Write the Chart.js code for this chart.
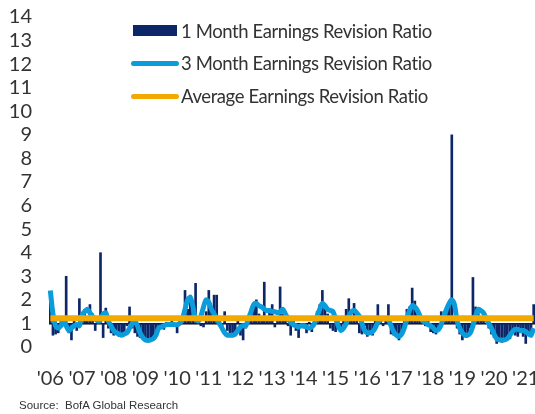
<!DOCTYPE html>
<html>
<head>
<meta charset="utf-8">
<script src="https://cdn.jsdelivr.net/npm/chart.js@4/dist/chart.umd.min.js"></script>
<style>
  body { margin: 0; background: #fff; }
  #wrap { position: relative; width: 535px; height: 414px; overflow: hidden; }
  #chart { position: absolute; left: 0; top: 0; }
  .leg { position: absolute; left: 181px; font-family: Lato, 'Liberation Sans', sans-serif; font-size: 18.5px; letter-spacing: -0.4px; color: #333; line-height: 22px; white-space: nowrap; }
  .sw { position: absolute; }
  #source { position: absolute; left: 19px; top: 399px; font-family: 'Liberation Sans', sans-serif; font-size: 11.5px; color: #333; white-space: pre; }
</style>
</head>
<body>
<div id="wrap">
  <canvas id="chart" width="535" height="414"></canvas>
  <div class="sw" style="left:133px;top:25px;width:44px;height:11px;background:#0c2668;"></div>
  <div class="leg" style="top:20px;">1 Month Earnings Revision Ratio</div>
  <div class="sw" style="left:131px;top:61px;width:48px;height:5px;border-radius:3px;background:#0b9ddb;"></div>
  <div class="leg" style="top:52px;">3 Month Earnings Revision Ratio</div>
  <div class="sw" style="left:131px;top:94px;width:48px;height:5px;border-radius:3px;background:#f2a900;"></div>
  <div class="leg" style="top:85px;">Average Earnings Revision Ratio</div>
  <div id="source">Source:  BofA Global Research</div>
</div>
<script>
// years on the x axis (one label per January)
var years = ['06', '07', '08', '09', '10', '11', '12', '13', '14', '15', '16', '17', '18', '19', '20', '21'];

// 1 month earnings revision ratio, monthly Jan 2006 - Apr 2021
var oneMonth = [
  2.3, 0.5, 0.55, 0.6, 1.2, 0.9, 3.0, 0.6, 0.3, 1.15, 0.7, 2.05,   // 2006
  1.1, 1.6, 1.3, 1.8, 1.4, 0.7, 1.2, 4.0, 0.4, 1.65, 0.8, 0.6,     // 2007
  0.5, 0.7, 0.45, 0.55, 0.6, 0.9, 1.7, 0.8, 0.6, 0.45, 0.4, 0.35,  // 2008
  0.3, 0.35, 0.25, 0.45, 0.6, 0.9, 0.85, 0.75, 1.05, 0.95, 1.1, 0.9, // 2009
  0.6, 1.1, 1.2, 2.4, 1.6, 2.2, 1.9, 2.7, 1.3, 0.9, 0.85, 1.5,     // 2010
  2.4, 1.5, 2.2, 2.2, 1.3, 0.8, 1.5, 0.7, 0.6, 0.5, 0.55, 1.3,     // 2011
  0.5, 0.3, 0.8, 1.2, 1.5, 1.85, 2.0, 1.4, 1.3, 2.75, 1.2, 1.5,    // 2012
  1.8, 0.85, 1.3, 2.55, 1.4, 1.2, 0.9, 0.5, 1.1, 0.7, 0.4, 0.95,   // 2013
  0.8, 0.6, 1.05, 0.65, 1.2, 1.5, 1.8, 2.4, 1.6, 1.4, 0.8, 0.7,    // 2014
  0.65, 1.1, 0.7, 1.2, 1.6, 2.05, 1.3, 1.85, 1.1, 0.6, 0.55, 0.9,  // 2015
  0.45, 0.7, 0.5, 1.3, 1.8, 1.2, 0.9, 1.3, 1.8, 0.55, 0.5, 0.6,    // 2016
  0.3, 0.6, 1.3, 1.6, 1.7, 2.5, 1.95, 1.4, 1.2, 1.1, 0.9, 1.2,     // 2017
  0.65, 0.6, 0.55, 0.8, 1.5, 1.3, 1.6, 1.9, 9.0, 1.3, 0.8, 0.55,   // 2018
  0.3, 0.45, 0.5, 0.8, 2.95, 1.7, 1.5, 1.3, 1.2, 1.0, 0.8, 0.55,   // 2019
  0.4, 0.15, 0.3, 0.2, 0.35, 0.4, 0.35, 0.6, 0.5, 0.45, 0.6, 0.45, // 2020
  0.15, 0.5, 0.6, 1.8                                              // 2021
];

// 3 month earnings revision ratio
var threeMonth = [
  2.4, 1.4, 0.9, 0.8, 0.9, 1.1, 0.9, 0.7, 0.8, 0.9, 0.95, 0.9,
  1.35, 1.5, 1.6, 1.45, 1.3, 1.2, 1.1, 1.15, 1.4, 1.45, 1.1, 0.9,
  0.7, 0.6, 0.55, 0.5, 0.55, 0.6, 0.8, 1.0, 1.1, 0.9, 0.6, 0.4,
  0.3, 0.28, 0.3, 0.35, 0.5, 0.8, 0.85, 0.9, 0.95, 0.95, 0.95, 0.95,
  0.95, 1.0, 1.2, 1.6, 2.0, 2.1, 1.7, 1.2, 1.1, 1.3, 1.7, 2.0,
  1.9, 1.6, 1.4, 1.2, 1.0, 0.8, 0.6, 0.5, 0.5, 0.5, 0.55, 0.7,
  0.85, 0.9, 0.9, 1.2, 1.5, 1.8, 1.85, 1.75, 1.7, 1.6, 1.55, 1.55,
  1.5, 1.5, 1.45, 1.5, 1.6, 1.4, 1.2, 1.05, 0.95, 0.9, 0.85, 0.9,
  0.9, 0.85, 0.8, 0.85, 1.0, 1.3, 1.6, 1.85, 1.75, 1.6, 1.55, 1.5,
  1.2, 0.9, 0.7, 0.8, 1.0, 1.3, 1.5, 1.55, 1.45, 1.3, 1.0, 0.7,
  0.6, 0.6, 0.65, 0.8, 1.05, 1.15, 1.2, 1.2, 1.15, 0.9, 0.65, 0.5,
  0.45, 0.55, 0.8, 1.2, 1.55, 1.75, 1.7, 1.55, 1.3, 1.1, 1.05, 0.95,
  0.9, 0.8, 0.7, 0.75, 0.95, 1.3, 1.6, 1.85, 2.0, 1.8, 1.1, 0.8,
  0.6, 0.5, 0.5, 0.6, 0.9, 1.3, 1.6, 1.55, 1.45, 1.2, 1.0, 0.8,
  0.55, 0.35, 0.3, 0.3, 0.3, 0.35, 0.5, 0.65, 0.75, 0.75, 0.7, 0.7,
  0.65, 0.55, 0.5, 0.8
];

// long run average
var avgRatio = 1.22;

// y axis ticks 0..14
var yMin = 0, yMax = 14;

//build month labels
var monthLabels = [];
for (var i = 0; i < oneMonth.length; i++) {
  monthLabels.push(years[Math.floor(i / 12)] + '-' + (i % 12 + 1));
}

var fontFam = "Lato, 'Liberation Sans', sans-serif";

let chart_ctx = document.getElementById('chart');

let revision_chart = new Chart(chart_ctx, {
  data: {
    labels: monthLabels,
    datasets: [
      {
        type: 'line',
        label: 'Average Earnings Revision Ratio',
        data: monthLabels.map(function () { return avgRatio; }),
        borderColor: '#f2a900',
        borderWidth: 6,
        pointRadius: 0,
        order: 0
      },
      {
        type: 'line',
        label: '3 Month Earnings Revision Ratio',
        data: threeMonth,
        borderColor: '#0b9ddb',
        borderWidth: 5,
        pointRadius: 0,
        tension: 0.3,
        order: 1
      },
      {
        type: 'bar',
        label: '1 Month Earnings Revision Ratio',
        data: oneMonth.map(function (v) { return [1, v]; }),
        backgroundColor: '#0c2668',
        barThickness: 2,
        order: 2
      }
    ]
  },
  options: {
    responsive: false,
    animation: false,
    layout: { padding: { top: 17, left: 0, right: 0, bottom: 0 } },
    plugins: {
      legend: { display: false },
      tooltip: { enabled: false }
    },
    scales: {
      x: {
        offset: true,
        grid: { display: false },
        border: { display: false },
        ticks: {
          autoSkip: false,
          maxRotation: 0,
          padding: 12,
          color: '#333',
          font: { size: 20, family: fontFam },
          callback: function (val, idx) {
            return idx % 12 === 0 ? "'" + years[idx / 12] : '';
          }
        },
        afterFit: function (scale) {
          scale.height = 67;
          scale.paddingLeft = 0;
          scale.paddingRight = 0;
        }
      },
      y: {
        min: yMin,
        max: yMax,
        border: { display: false },
        grid: {
          drawTicks: false,
          lineWidth: 1.5,
          color: function (c) { return c.tick && c.tick.value === 1 ? '#000' : 'rgba(0,0,0,0)'; }
        },
        ticks: {
          stepSize: 1,
          autoSkip: false,
          padding: 17,
          color: '#333',
          font: { size: 20, family: fontFam }
        },
        afterFit: function (scale) {
          scale.width = 49;
          scale.paddingTop = 0;
          scale.paddingBottom = 0;
        }
      }
    }
  }
});
</script>
</body>
</html>
